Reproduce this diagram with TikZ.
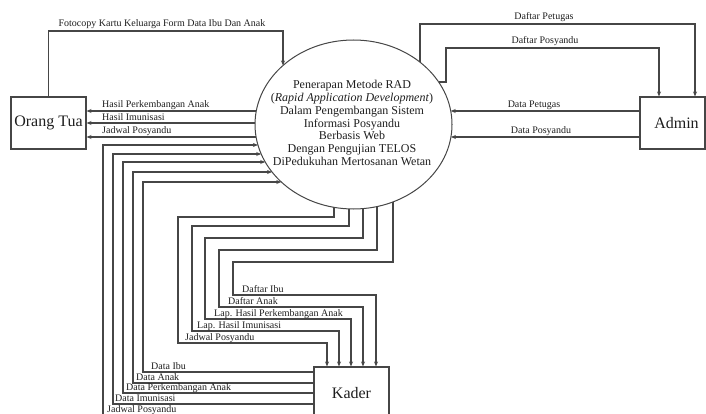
\documentclass[tikz,border=0pt]{standalone}
\usepackage{fontspec}
\setmainfont{Liberation Serif}
\usetikzlibrary{arrows.meta,shapes.geometric}
\definecolor{ln}{RGB}{70,70,70}
\definecolor{tx}{RGB}{30,30,30}
\begin{document}
\begin{tikzpicture}[x=1pt,y=-1pt,
  flow/.style={draw=ln,line width=1.1pt},
  arr/.style={flow,-{Stealth[length=5pt,width=4pt]}},
  ent/.style={draw=ln,line width=1.1pt,minimum width=75pt,minimum height=52pt,inner sep=0pt,font=\fontsize{16}{18}\selectfont,text=tx},
  lbl/.style={font=\fontsize{10}{11}\selectfont,text=tx,inner sep=0pt,anchor=base west},
  lblc/.style={lbl,anchor=base},
]
\useasboundingbox (0,0) rectangle (706,414);
% entities
\node[ent] (ot) at (48.5,123) {Orang Tua};
\node[ent,minimum width=65pt] (ad) at (672.5,123) {\hspace{8pt}Admin};
\node[ent] (kd) at (351.5,393) {Kader};
% process
\node[draw=ln,line width=1pt,ellipse,minimum width=197pt,minimum height=169pt,inner sep=0pt] (proc) at (353.5,124.5) {};
\node[align=center,text=tx,font=\fontsize{12}{12.7}\selectfont,inner sep=0pt] (proctext) at (352,123)
 {Penerapan Metode RAD\\(\textit{Rapid Application Development})\\Dalam Pengembangan Sistem\\Informasi Posyandu\\Berbasis Web\\Dengan Pengujian TELOS\\DiPedukuhan Mertosanan Wetan};
% points on the process border
\coordinate (pT) at (283,65.5);
\coordinate (pR0) at (420,62.2);
\coordinate (pR1) at (438.6,82);
\coordinate (pR2) at (450.7,111);
\coordinate (pR3) at (450.9,137);
\coordinate (pL1) at (256.3,111);
\coordinate (pL2) at (255,123);
\coordinate (pL3) at (256.1,137);
\coordinate (pL4) at (257.9,145);
\coordinate (pL5) at (261.2,154);
\coordinate (pL6) at (265.2,162);
\coordinate (pL7) at (272,172);
\coordinate (pL8) at (281.3,182);
\coordinate (pB1) at (334,207.3);
\coordinate (pB2) at (349,208.9);
\coordinate (pB3) at (363,208.6);
\coordinate (pB4) at (377,206.6);
\coordinate (pB5) at (393,201.9);
% Orang Tua
\draw[arr] (ot.north) |- (283,31) -- (pT);
\node[lblc] (l1) at (162,27) {Fotocopy Kartu Keluarga Form Data Ibu Dan Anak};
\draw[arr] (pL1) -- (pL1 -| ot.east);
\draw[arr] (pL2) -- (pL2 -| ot.east);
\draw[arr] (pL3) -- (pL3 -| ot.east);
\node[lbl] (l2) at (102,107.5) {Hasil Perkembangan Anak};
\node[lbl] (l3) at (102,120.5) {Hasil Imunisasi};
\node[lbl] (l4) at (102,133.5) {Jadwal Posyandu};
% Admin
\draw[arr] (pR0) |- (695,24) -- (695,24 |- ad.north);
\draw[arr] (pR1) -- (446,82) |- (659,48) -- (659,48 |- ad.north);
\draw[arr] (ad.west |- pR2) -- (pR2);
\draw[arr] (ad.west |- pR3) -- (pR3);
\node[lblc] (l5) at (544,19.5) {Daftar Petugas};
\node[lblc] (l6) at (545,43.5) {Daftar Posyandu};
\node[lblc] (l7) at (534,107.5) {Data Petugas};
\node[lblc] (l8) at (541,133.5) {Data Posyandu};
% Kader -> process
\draw[arr] (kd.west |- 0,415) -| (103,145) -- (pL4);
\draw[arr] (kd.west |- 0,404) -| (113,154) -- (pL5);
\draw[arr] (kd.west |- 0,393) -| (123,162) -- (pL6);
\draw[arr] (kd.west |- 0,383) -| (133,172) -- (pL7);
\draw[arr] (kd.west |- 0,372) -| (143,182) -- (pL8);
\node[lbl] (l9) at (151,369.5) {Data Ibu};
\node[lbl] (l10) at (136,380.5) {Data Anak};
\node[lbl] (l11) at (126,390.5) {Data Perkembangan Anak};
\node[lbl] (l12) at (115,401.5) {Data Imunisasi};
\node[lbl] (l13) at (107,412) {Jadwal Posyandu};
% process -> Kader
\draw[arr] (pB1) |- (178,217) |- (327,343) -- (327,343 |- kd.north);
\draw[arr] (pB2) |- (192,226) |- (339,331) -- (339,331 |- kd.north);
\draw[arr] (pB3) |- (205,238) |- (351,319) -- (351,319 |- kd.north);
\draw[arr] (pB4) |- (219,250) |- (363,307) -- (363,307 |- kd.north);
\draw[arr] (pB5) |- (233,262) |- (376,295) -- (376,295 |- kd.north);
\node[lbl] (l14) at (242,292.5) {Daftar Ibu};
\node[lbl] (l15) at (228,304.5) {Daftar Anak};
\node[lbl] (l16) at (214,316.5) {Lap. Hasil Perkembangan Anak};
\node[lbl] (l17) at (197,328.5) {Lap. Hasil Imunisasi};
\node[lbl] (l18) at (185,340.5) {Jadwal Posyandu};
\end{tikzpicture}
\end{document}
